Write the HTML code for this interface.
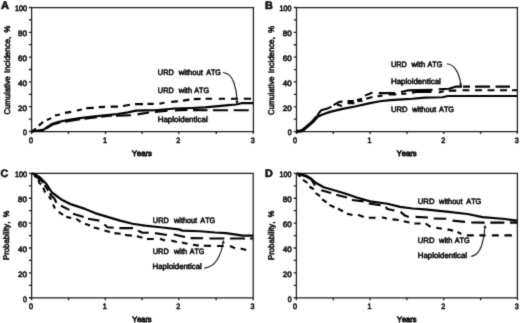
<!DOCTYPE html>
<html lang="en"><head><meta charset="utf-8"><title>Figure</title>
<style>html,body{margin:0;padding:0;background:#fff;}svg{display:block;}text{font-family:"Liberation Sans", Arial, Helvetica, sans-serif;fill:#111;stroke:#111;stroke-width:0.6px;text-rendering:geometricPrecision;font-kerning:none;}</style>
</head><body>
<svg width="520" height="323" viewBox="0 0 520 323">
<rect x="0" y="0" width="520" height="323" fill="#fff"/>
<defs><filter id="soft" x="0" y="0" width="520" height="323" filterUnits="userSpaceOnUse" color-interpolation-filters="sRGB"><feConvolveMatrix order="3" kernelMatrix="0.0169 0.0962 0.0169 0.0962 0.5476 0.0962 0.0169 0.0962 0.0169" divisor="1" edgeMode="duplicate" preserveAlpha="false"/></filter></defs>
<g filter="url(#soft)">
<path d="M31.60,7.50 H253.40 V131.50 H31.60 Z" fill="none" stroke="#1c1c1c" stroke-width="1.25"/>
<path d="M28.90,131.50 H31.60 M28.90,119.10 H31.60 M28.90,106.70 H31.60 M28.90,94.30 H31.60 M28.90,81.90 H31.60 M28.90,69.50 H31.60 M28.90,57.10 H31.60 M28.90,44.70 H31.60 M28.90,32.30 H31.60 M28.90,19.90 H31.60 M28.90,7.50 H31.60 M31.60,131.50 V133.90 M68.50,131.50 V133.90 M105.50,131.50 V133.90 M142.10,131.50 V133.90 M178.80,131.50 V133.90 M216.30,131.50 V133.90 M253.40,131.50 V133.90 " fill="none" stroke="#1c1c1c" stroke-width="1.3"/>
<text x="27.00" y="135.35" font-size="7.80" font-weight="normal" text-anchor="end" textLength="3.90" lengthAdjust="spacingAndGlyphs">0</text>
<text x="27.00" y="110.55" font-size="7.80" font-weight="normal" text-anchor="end" textLength="8.90" lengthAdjust="spacingAndGlyphs">20</text>
<text x="27.00" y="85.75" font-size="7.80" font-weight="normal" text-anchor="end" textLength="8.90" lengthAdjust="spacingAndGlyphs">40</text>
<text x="27.00" y="60.95" font-size="7.80" font-weight="normal" text-anchor="end" textLength="8.90" lengthAdjust="spacingAndGlyphs">60</text>
<text x="27.00" y="36.15" font-size="7.80" font-weight="normal" text-anchor="end" textLength="8.90" lengthAdjust="spacingAndGlyphs">80</text>
<text x="27.00" y="11.35" font-size="7.80" font-weight="normal" text-anchor="end" textLength="12.00" lengthAdjust="spacingAndGlyphs">100</text>
<text x="31.00" y="142.70" font-size="7.80" font-weight="normal" text-anchor="middle" textLength="4.00" lengthAdjust="spacingAndGlyphs">0</text>
<text x="104.90" y="142.70" font-size="7.80" font-weight="normal" text-anchor="middle" textLength="4.00" lengthAdjust="spacingAndGlyphs">1</text>
<text x="178.20" y="142.70" font-size="7.80" font-weight="normal" text-anchor="middle" textLength="4.00" lengthAdjust="spacingAndGlyphs">2</text>
<text x="252.80" y="142.70" font-size="7.80" font-weight="normal" text-anchor="middle" textLength="4.00" lengthAdjust="spacingAndGlyphs">3</text>
<path d="M296.50,7.50 H517.40 V131.60 H296.50 Z" fill="none" stroke="#1c1c1c" stroke-width="1.25"/>
<path d="M293.80,131.60 H296.50 M293.80,119.19 H296.50 M293.80,106.78 H296.50 M293.80,94.37 H296.50 M293.80,81.96 H296.50 M293.80,69.55 H296.50 M293.80,57.14 H296.50 M293.80,44.73 H296.50 M293.80,32.32 H296.50 M293.80,19.91 H296.50 M293.80,7.50 H296.50 M296.50,131.60 V134.00 M333.32,131.60 V134.00 M370.13,131.60 V134.00 M406.95,131.60 V134.00 M443.77,131.60 V134.00 M480.58,131.60 V134.00 M517.40,131.60 V134.00 " fill="none" stroke="#1c1c1c" stroke-width="1.3"/>
<text x="291.60" y="135.45" font-size="7.80" font-weight="normal" text-anchor="end" textLength="3.90" lengthAdjust="spacingAndGlyphs">0</text>
<text x="291.60" y="110.63" font-size="7.80" font-weight="normal" text-anchor="end" textLength="8.90" lengthAdjust="spacingAndGlyphs">20</text>
<text x="291.60" y="85.81" font-size="7.80" font-weight="normal" text-anchor="end" textLength="8.90" lengthAdjust="spacingAndGlyphs">40</text>
<text x="291.60" y="60.99" font-size="7.80" font-weight="normal" text-anchor="end" textLength="8.90" lengthAdjust="spacingAndGlyphs">60</text>
<text x="291.60" y="36.17" font-size="7.80" font-weight="normal" text-anchor="end" textLength="8.90" lengthAdjust="spacingAndGlyphs">80</text>
<text x="291.60" y="11.35" font-size="7.80" font-weight="normal" text-anchor="end" textLength="12.00" lengthAdjust="spacingAndGlyphs">100</text>
<text x="295.10" y="142.80" font-size="7.80" font-weight="normal" text-anchor="middle" textLength="4.00" lengthAdjust="spacingAndGlyphs">0</text>
<text x="369.53" y="142.80" font-size="7.80" font-weight="normal" text-anchor="middle" textLength="4.00" lengthAdjust="spacingAndGlyphs">1</text>
<text x="443.17" y="142.80" font-size="7.80" font-weight="normal" text-anchor="middle" textLength="4.00" lengthAdjust="spacingAndGlyphs">2</text>
<text x="516.80" y="142.80" font-size="7.80" font-weight="normal" text-anchor="middle" textLength="4.00" lengthAdjust="spacingAndGlyphs">3</text>
<path d="M31.60,173.40 H253.20 V297.75 H31.60 Z" fill="none" stroke="#1c1c1c" stroke-width="1.25"/>
<path d="M28.90,297.75 H31.60 M28.90,285.31 H31.60 M28.90,272.88 H31.60 M28.90,260.44 H31.60 M28.90,248.01 H31.60 M28.90,235.57 H31.60 M28.90,223.14 H31.60 M28.90,210.71 H31.60 M28.90,198.27 H31.60 M28.90,185.84 H31.60 M28.90,173.40 H31.60 M31.60,297.75 V300.15 M68.50,297.75 V300.15 M105.40,297.75 V300.15 M142.00,297.75 V300.15 M178.80,297.75 V300.15 M216.10,297.75 V300.15 M253.20,297.75 V300.15 " fill="none" stroke="#1c1c1c" stroke-width="1.3"/>
<text x="27.00" y="301.60" font-size="7.80" font-weight="normal" text-anchor="end" textLength="3.90" lengthAdjust="spacingAndGlyphs">0</text>
<text x="27.00" y="276.73" font-size="7.80" font-weight="normal" text-anchor="end" textLength="8.90" lengthAdjust="spacingAndGlyphs">20</text>
<text x="27.00" y="251.86" font-size="7.80" font-weight="normal" text-anchor="end" textLength="8.90" lengthAdjust="spacingAndGlyphs">40</text>
<text x="27.00" y="226.99" font-size="7.80" font-weight="normal" text-anchor="end" textLength="8.90" lengthAdjust="spacingAndGlyphs">60</text>
<text x="27.00" y="202.12" font-size="7.80" font-weight="normal" text-anchor="end" textLength="8.90" lengthAdjust="spacingAndGlyphs">80</text>
<text x="27.00" y="177.25" font-size="7.80" font-weight="normal" text-anchor="end" textLength="12.00" lengthAdjust="spacingAndGlyphs">100</text>
<text x="31.00" y="308.95" font-size="7.80" font-weight="normal" text-anchor="middle" textLength="4.00" lengthAdjust="spacingAndGlyphs">0</text>
<text x="104.80" y="308.95" font-size="7.80" font-weight="normal" text-anchor="middle" textLength="4.00" lengthAdjust="spacingAndGlyphs">1</text>
<text x="178.20" y="308.95" font-size="7.80" font-weight="normal" text-anchor="middle" textLength="4.00" lengthAdjust="spacingAndGlyphs">2</text>
<text x="252.60" y="308.95" font-size="7.80" font-weight="normal" text-anchor="middle" textLength="4.00" lengthAdjust="spacingAndGlyphs">3</text>
<path d="M296.40,173.40 H517.40 V297.75 H296.40 Z" fill="none" stroke="#1c1c1c" stroke-width="1.25"/>
<path d="M293.70,297.75 H296.40 M293.70,285.31 H296.40 M293.70,272.88 H296.40 M293.70,260.44 H296.40 M293.70,248.01 H296.40 M293.70,235.57 H296.40 M293.70,223.14 H296.40 M293.70,210.71 H296.40 M293.70,198.27 H296.40 M293.70,185.84 H296.40 M293.70,173.40 H296.40 M296.40,297.75 V300.15 M333.23,297.75 V300.15 M370.07,297.75 V300.15 M406.90,297.75 V300.15 M443.73,297.75 V300.15 M480.57,297.75 V300.15 M517.40,297.75 V300.15 " fill="none" stroke="#1c1c1c" stroke-width="1.3"/>
<text x="291.60" y="301.60" font-size="7.80" font-weight="normal" text-anchor="end" textLength="3.90" lengthAdjust="spacingAndGlyphs">0</text>
<text x="291.60" y="276.73" font-size="7.80" font-weight="normal" text-anchor="end" textLength="8.90" lengthAdjust="spacingAndGlyphs">20</text>
<text x="291.60" y="251.86" font-size="7.80" font-weight="normal" text-anchor="end" textLength="8.90" lengthAdjust="spacingAndGlyphs">40</text>
<text x="291.60" y="226.99" font-size="7.80" font-weight="normal" text-anchor="end" textLength="8.90" lengthAdjust="spacingAndGlyphs">60</text>
<text x="291.60" y="202.12" font-size="7.80" font-weight="normal" text-anchor="end" textLength="8.90" lengthAdjust="spacingAndGlyphs">80</text>
<text x="291.60" y="177.25" font-size="7.80" font-weight="normal" text-anchor="end" textLength="12.00" lengthAdjust="spacingAndGlyphs">100</text>
<text x="295.00" y="308.95" font-size="7.80" font-weight="normal" text-anchor="middle" textLength="4.00" lengthAdjust="spacingAndGlyphs">0</text>
<text x="369.47" y="308.95" font-size="7.80" font-weight="normal" text-anchor="middle" textLength="4.00" lengthAdjust="spacingAndGlyphs">1</text>
<text x="443.13" y="308.95" font-size="7.80" font-weight="normal" text-anchor="middle" textLength="4.00" lengthAdjust="spacingAndGlyphs">2</text>
<text x="516.80" y="308.95" font-size="7.80" font-weight="normal" text-anchor="middle" textLength="4.00" lengthAdjust="spacingAndGlyphs">3</text>
<text x="0.90" y="9.00" font-size="10.80" font-weight="bold" text-anchor="start" textLength="8.00" lengthAdjust="spacingAndGlyphs">A</text>
<text x="265.00" y="9.00" font-size="10.80" font-weight="bold" text-anchor="start" textLength="7.80" lengthAdjust="spacingAndGlyphs">B</text>
<text x="0.60" y="177.20" font-size="10.80" font-weight="bold" text-anchor="start" textLength="7.80" lengthAdjust="spacingAndGlyphs">C</text>
<text x="265.00" y="177.20" font-size="10.80" font-weight="bold" text-anchor="start" textLength="7.80" lengthAdjust="spacingAndGlyphs">D</text>
<text transform="translate(9.60,114.60) rotate(-90)" x="0" y="0" font-size="8.20" textLength="38.50" lengthAdjust="spacingAndGlyphs">Cumulative</text>
<text transform="translate(9.60,72.90) rotate(-90)" x="0" y="0" font-size="8.20" textLength="36.20" lengthAdjust="spacingAndGlyphs">Incidence,</text>
<text transform="translate(9.60,32.40) rotate(-90)" x="0" y="0" font-size="8.20" textLength="6.80" lengthAdjust="spacingAndGlyphs">%</text>
<text transform="translate(274.30,114.90) rotate(-90)" x="0" y="0" font-size="8.20" textLength="38.50" lengthAdjust="spacingAndGlyphs">Cumulative</text>
<text transform="translate(274.30,73.20) rotate(-90)" x="0" y="0" font-size="8.20" textLength="36.20" lengthAdjust="spacingAndGlyphs">Incidence,</text>
<text transform="translate(274.30,32.70) rotate(-90)" x="0" y="0" font-size="8.20" textLength="6.80" lengthAdjust="spacingAndGlyphs">%</text>
<text transform="translate(9.10,259.90) rotate(-90)" x="0" y="0" font-size="8.20" textLength="38.20" lengthAdjust="spacingAndGlyphs">Probability,</text>
<text transform="translate(9.10,217.20) rotate(-90)" x="0" y="0" font-size="8.20" textLength="6.60" lengthAdjust="spacingAndGlyphs">%</text>
<text transform="translate(274.00,259.90) rotate(-90)" x="0" y="0" font-size="8.20" textLength="38.20" lengthAdjust="spacingAndGlyphs">Probability,</text>
<text transform="translate(274.00,217.20) rotate(-90)" x="0" y="0" font-size="8.20" textLength="6.60" lengthAdjust="spacingAndGlyphs">%</text>
<text x="132.00" y="155.90" font-size="7.80" font-weight="normal" text-anchor="start" textLength="19.80" lengthAdjust="spacingAndGlyphs" style="stroke-width:0.85px">Years</text>
<text x="396.80" y="156.00" font-size="7.80" font-weight="normal" text-anchor="start" textLength="19.80" lengthAdjust="spacingAndGlyphs" style="stroke-width:0.85px">Years</text>
<text x="132.20" y="321.50" font-size="7.80" font-weight="normal" text-anchor="start" textLength="19.40" lengthAdjust="spacingAndGlyphs" style="stroke-width:0.85px">Years</text>
<text x="397.00" y="321.50" font-size="7.80" font-weight="normal" text-anchor="start" textLength="19.40" lengthAdjust="spacingAndGlyphs" style="stroke-width:0.85px">Years</text>
<path d="M33.00,130.60 L36.00,128.60 M38.75,125.60 L43.10,121.90 M46.90,120.00 L51.25,118.10 M55.00,115.60 L60.00,114.40 M65.00,112.90 L71.25,111.90 M76.90,110.60 L81.90,109.40 M86.25,108.10 L93.75,107.90 M98.75,107.10 L105.00,106.90 M110.60,106.60 L118.00,106.60 M123.00,106.00 L130.00,104.75 M135.00,104.10 L143.00,104.10 M147.50,103.90 L153.75,103.90 M159.40,103.75 L164.40,102.75 M171.25,101.90 L178.00,101.25 M183.00,100.60 L189.40,99.60 M193.75,99.10 L200.60,98.90 M205.60,98.75 L212.00,98.75 M218.75,98.75 L225.00,98.75 M231.00,98.75 L238.00,98.75 M243.75,98.75 L251.00,98.75 " fill="none" stroke="#000" stroke-width="2.10" stroke-linejoin="round"/>
<path d="M31.60,131.30 L38.00,130.60 L43.75,129.60 L47.50,127.00 L52.50,123.75 L59.00,121.80 L67.50,120.00 L80.00,118.10 L95.00,116.25 L105.00,115.30 L117.50,114.00 L128.00,112.30 L136.00,110.70 L145.00,110.40 L155.00,110.25 L175.00,108.50 L192.00,108.00 L205.00,107.40 L226.00,105.40 L236.00,104.50 L241.50,103.20 L253.00,103.20" fill="none" stroke="#000" stroke-width="2.20" stroke-linejoin="round"/>
<path d="M31.60,131.30 L40.00,130.80 L44.00,130.20 M46.00,128.60 L52.50,124.60 L60.00,122.60 M65.00,121.60 L80.00,119.30 M84.50,118.80 L97.00,117.20 M101.00,116.80 L112.00,115.40 M116.00,115.60 L131.00,115.25 M137.50,114.40 L149.00,112.50 M155.00,111.90 L167.50,110.80 M175.00,110.40 L187.50,109.90 M193.00,110.10 L207.50,110.25 M213.00,110.25 L228.00,110.25 M233.75,110.25 L248.75,110.25 " fill="none" stroke="#000" stroke-width="2.10" stroke-linejoin="round"/>
<text x="157.83" y="75.30" font-size="7.80" font-weight="normal" text-anchor="start" textLength="15.97" lengthAdjust="spacingAndGlyphs">URD</text>
<text x="178.81" y="75.30" font-size="7.80" font-weight="normal" text-anchor="start" textLength="24.04" lengthAdjust="spacingAndGlyphs">without</text>
<text x="206.19" y="75.30" font-size="7.80" font-weight="normal" text-anchor="start" textLength="14.65" lengthAdjust="spacingAndGlyphs">ATG</text>
<text x="157.83" y="92.60" font-size="7.80" font-weight="normal" text-anchor="start" textLength="15.97" lengthAdjust="spacingAndGlyphs">URD</text>
<text x="178.81" y="92.60" font-size="7.80" font-weight="normal" text-anchor="start" textLength="13.27" lengthAdjust="spacingAndGlyphs">with</text>
<text x="194.29" y="92.60" font-size="7.80" font-weight="normal" text-anchor="start" textLength="14.70" lengthAdjust="spacingAndGlyphs">ATG</text>
<text x="157.65" y="122.30" font-size="7.80" font-weight="normal" text-anchor="start" textLength="50.09" lengthAdjust="spacingAndGlyphs">Haploidentical</text>
<path d="M223.0,72.5 C228.5,73.0 232.0,77.0 234.0,83.0 C236.0,89.0 237.0,94.0 237.0,101.0" fill="none" stroke="#111" stroke-width="1.10"/>
<path d="M237.00,104.20 L235.40,101.00 L238.60,101.00 Z" fill="#111"/>
<path d="M296.50,131.40 L300.50,131.10 L303.00,129.90 L306.25,127.30 L312.50,121.90 L316.90,116.90" fill="none" stroke="#000" stroke-width="3.20" stroke-linejoin="round"/>
<path d="M316.00,117.60 L322.50,114.50 L330.00,111.90 L342.50,108.90 L355.00,106.50 L370.00,103.10 L380.00,101.25 L390.00,100.20 L402.50,99.40 L412.50,98.75 L425.00,97.60 L442.50,97.25 L448.00,96.00 L517.00,96.00" fill="none" stroke="#000" stroke-width="2.20" stroke-linejoin="round"/>
<path d="M317.20,116.00 L320.00,111.50 L322.00,109.90 L327.50,108.60 L331.50,106.60 M333.50,105.20 L339.40,101.90 L342.50,101.60 M347.50,101.00 L353.75,101.00 M357.00,100.00 L362.00,98.75 M365.00,95.60 L372.50,92.50 M378.75,93.10 L395.00,93.10 M401.00,92.10 L407.50,90.40 L432.50,89.90 M438.75,89.40 L448.75,88.75 L456.25,86.60 L462.00,86.60 M463.00,86.60 L470.00,86.60 M475.00,86.60 L490.00,86.60 M495.50,86.60 L510.00,86.60 " fill="none" stroke="#000" stroke-width="2.10" stroke-linejoin="round"/>
<path d="M337.00,104.40 L342.00,106.00 M347.50,103.10 L354.40,103.10 M357.50,101.30 L362.50,100.70 M366.25,98.75 L372.50,97.00 M377.50,96.25 L382.50,95.60 M388.75,94.40 L396.25,94.40 M401.25,93.75 L406.25,93.75 M412.00,92.60 L418.00,91.60 L431.50,91.90 M438.75,92.50 L443.75,91.25 M448.75,90.60 L456.25,90.60 M462.50,90.25 L469.40,90.25 M475.00,90.25 L482.00,90.25 M487.50,90.25 L494.50,90.25 M500.00,90.25 L507.00,90.25 M512.00,90.25 L517.00,90.25 " fill="none" stroke="#000" stroke-width="2.10" stroke-linejoin="round"/>
<text x="390.98" y="67.10" font-size="7.80" font-weight="normal" text-anchor="start" textLength="15.97" lengthAdjust="spacingAndGlyphs">URD</text>
<text x="411.56" y="67.10" font-size="7.80" font-weight="normal" text-anchor="start" textLength="13.64" lengthAdjust="spacingAndGlyphs">with</text>
<text x="427.54" y="67.10" font-size="7.80" font-weight="normal" text-anchor="start" textLength="14.80" lengthAdjust="spacingAndGlyphs">ATG</text>
<text x="390.90" y="84.00" font-size="7.80" font-weight="normal" text-anchor="start" textLength="49.93" lengthAdjust="spacingAndGlyphs">Haploidentical</text>
<text x="390.96" y="111.90" font-size="7.80" font-weight="normal" text-anchor="start" textLength="16.61" lengthAdjust="spacingAndGlyphs">URD</text>
<text x="412.21" y="111.90" font-size="7.80" font-weight="normal" text-anchor="start" textLength="23.79" lengthAdjust="spacingAndGlyphs">without</text>
<text x="439.04" y="111.90" font-size="7.80" font-weight="normal" text-anchor="start" textLength="14.96" lengthAdjust="spacingAndGlyphs">ATG</text>
<path d="M446.9,63.75 C452.5,64.5 455.5,68.0 457.5,72.5 C459.5,77.0 460.6,80.0 460.6,84.0" fill="none" stroke="#111" stroke-width="1.10"/>
<path d="M460.60,87.00 L459.00,83.80 L462.20,83.80 Z" fill="#111"/>
<path d="M31.60,173.20 L36.00,174.80 L40.00,177.50 L46.25,183.75 L51.90,192.50 L61.25,199.40 L71.25,204.40 L85.00,208.90 L95.00,213.10 L107.50,216.90 L120.00,220.60 L132.50,223.75 L145.00,225.60 L162.50,227.50 L178.75,229.40 L182.50,230.60 L200.00,231.25 L215.00,232.50 L226.25,233.10 L242.50,235.60 L253.00,235.60" fill="none" stroke="#000" stroke-width="2.20" stroke-linejoin="round"/>
<path d="M35.00,175.50 L39.50,178.90 L43.30,182.90 M44.80,185.00 L48.30,190.60 M49.80,193.40 L51.20,195.60 L54.20,198.20 L56.40,202.70 M61.00,205.70 L69.40,209.90 M73.00,213.75 L83.75,216.90 M88.00,218.75 L99.40,220.60 M104.40,224.40 L107.50,227.25 L113.75,227.75 M119.40,228.10 L133.00,228.10 M138.00,230.60 L142.50,232.75 L148.75,232.75 M155.00,233.10 L166.90,235.00 M173.75,234.40 L185.00,236.90 M190.60,238.10 L203.00,238.30 M209.40,238.50 L224.40,238.50 M230.00,238.50 L245.00,238.50 M250.00,238.50 L253.00,238.50 " fill="none" stroke="#000" stroke-width="2.10" stroke-linejoin="round"/>
<path d="M34.00,175.30 L36.80,177.70 M38.50,179.30 L39.30,183.00 L41.20,184.30 M43.30,187.60 L45.20,192.50 M48.90,196.30 L51.20,199.70 M53.00,204.50 L55.00,208.50 M58.75,211.90 L63.00,215.00 M66.25,216.90 L71.25,218.00 M76.25,218.75 L80.60,221.90 M85.00,223.75 L90.00,225.60 M93.75,227.50 L99.40,228.75 M104.40,230.60 L110.00,231.90 M114.40,233.10 L120.60,233.75 M125.00,235.00 L131.90,235.60 M136.90,236.25 L142.50,237.75 M146.90,239.00 L153.75,239.00 M160.00,238.75 L165.00,240.60 M171.25,240.60 L176.90,241.90 M181.90,242.50 L187.50,243.75 M193.00,244.75 L198.75,245.60 M203.75,245.70 L211.00,245.90 M217.00,246.00 L223.75,246.00 M230.00,246.00 L235.00,248.20 M240.60,248.50 L246.25,250.00 " fill="none" stroke="#000" stroke-width="2.10" stroke-linejoin="round"/>
<text x="152.83" y="223.40" font-size="7.80" font-weight="normal" text-anchor="start" textLength="15.97" lengthAdjust="spacingAndGlyphs">URD</text>
<text x="174.06" y="223.40" font-size="7.80" font-weight="normal" text-anchor="start" textLength="22.94" lengthAdjust="spacingAndGlyphs">without</text>
<text x="200.29" y="223.40" font-size="7.80" font-weight="normal" text-anchor="start" textLength="14.96" lengthAdjust="spacingAndGlyphs">ATG</text>
<text x="152.73" y="254.40" font-size="7.80" font-weight="normal" text-anchor="start" textLength="16.08" lengthAdjust="spacingAndGlyphs">URD</text>
<text x="174.06" y="254.40" font-size="7.80" font-weight="normal" text-anchor="start" textLength="13.01" lengthAdjust="spacingAndGlyphs">with</text>
<text x="189.69" y="254.40" font-size="7.80" font-weight="normal" text-anchor="start" textLength="14.54" lengthAdjust="spacingAndGlyphs">ATG</text>
<text x="152.56" y="268.70" font-size="7.80" font-weight="normal" text-anchor="start" textLength="49.27" lengthAdjust="spacingAndGlyphs">Haploidentical</text>
<path d="M204.4,268.1 C210.0,267.5 214.0,264.5 217.0,260.0 C220.5,254.5 222.3,248.0 223.1,243.0" fill="none" stroke="#111" stroke-width="1.10"/>
<path d="M223.30,240.00 L221.70,243.20 L224.90,243.20 Z" fill="#111"/>
<path d="M296.50,173.20 L306.25,175.70 L311.25,178.80 L315.60,182.70 L323.75,187.20 L332.50,189.70 L345.00,193.50 L357.50,197.80 L370.00,201.40 L387.50,203.75 L400.00,206.90 L412.50,208.50 L425.00,209.40 L448.75,211.90 L467.50,214.00 L482.50,217.10 L505.00,219.00 L517.00,220.60" fill="none" stroke="#000" stroke-width="2.20" stroke-linejoin="round"/>
<path d="M300.00,174.60 L306.00,176.40 L311.25,179.25 L315.00,185.50 M321.25,190.25 L331.25,192.90 M336.25,194.80 L346.90,197.40 M351.90,200.00 L363.75,201.40 M368.75,203.50 L380.60,205.30 M385.60,206.90 L387.50,209.00 L394.40,210.60 M400.60,211.90 L405.00,215.60 L408.75,216.90 M415.60,216.90 L428.00,217.50 M433.75,218.50 L446.25,218.75 M452.50,220.60 L465.00,221.90 M471.25,222.50 L484.60,222.60 M490.30,222.60 L504.40,222.60 M510.00,222.60 L517.00,222.60 " fill="none" stroke="#000" stroke-width="2.10" stroke-linejoin="round"/>
<path d="M298.00,174.50 L300.50,176.80 M303.00,179.90 L307.50,183.00 M309.40,186.50 L313.75,189.25 M315.60,193.00 L320.00,196.10 M322.20,199.30 L326.60,202.40 M329.40,204.90 L334.40,207.30 M338.00,208.75 L343.00,211.25 M346.90,213.75 L352.50,215.00 M358.00,214.75 L363.75,216.90 M368.75,217.75 L375.60,217.75 M381.90,217.25 L386.90,218.50 M392.50,219.40 L398.75,220.00 M403.75,221.25 L409.40,222.50 M414.40,223.50 L420.60,223.50 M425.60,223.50 L430.60,226.90 M436.25,227.75 L441.90,228.75 M447.50,229.40 L453.00,230.60 M457.50,231.90 L461.25,234.00 M466.90,235.40 L473.75,235.40 M479.40,235.40 L485.60,235.40 M491.90,235.40 L498.75,235.40 M504.40,235.40 L511.90,235.40 " fill="none" stroke="#000" stroke-width="2.10" stroke-linejoin="round"/>
<text x="417.81" y="203.90" font-size="7.80" font-weight="normal" text-anchor="start" textLength="16.66" lengthAdjust="spacingAndGlyphs">URD</text>
<text x="439.06" y="203.90" font-size="7.80" font-weight="normal" text-anchor="start" textLength="23.44" lengthAdjust="spacingAndGlyphs">without</text>
<text x="466.29" y="203.90" font-size="7.80" font-weight="normal" text-anchor="start" textLength="14.96" lengthAdjust="spacingAndGlyphs">ATG</text>
<text x="417.81" y="243.10" font-size="7.80" font-weight="normal" text-anchor="start" textLength="16.66" lengthAdjust="spacingAndGlyphs">URD</text>
<text x="439.06" y="243.10" font-size="7.80" font-weight="normal" text-anchor="start" textLength="13.22" lengthAdjust="spacingAndGlyphs">with</text>
<text x="454.69" y="243.10" font-size="7.80" font-weight="normal" text-anchor="start" textLength="14.96" lengthAdjust="spacingAndGlyphs">ATG</text>
<text x="417.76" y="257.75" font-size="7.80" font-weight="normal" text-anchor="start" textLength="49.37" lengthAdjust="spacingAndGlyphs">Haploidentical</text>
<path d="M471.25,256.4 C476.0,255.5 479.5,251.5 481.5,246.0 C483.5,240.0 484.5,234.0 484.9,228.0" fill="none" stroke="#111" stroke-width="1.10"/>
<path d="M485.00,224.80 L483.40,228.00 L486.60,228.00 Z" fill="#111"/>
</g>
</svg>
</body></html>
